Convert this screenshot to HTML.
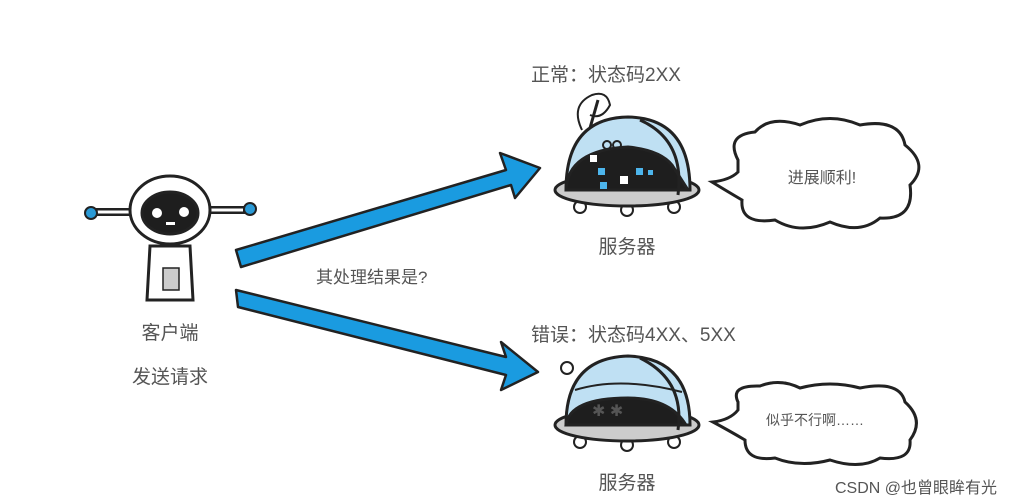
<!DOCTYPE html>
<html><head><meta charset="utf-8"><style>
html,body{margin:0;padding:0;background:#fff}
svg{display:block}
text{font-family:"Liberation Sans","Noto Sans CJK SC",sans-serif;fill:#555}
</style></head><body>
<svg width="1010" height="504" viewBox="0 0 1010 504" xmlns="http://www.w3.org/2000/svg">
<rect width="1010" height="504" fill="#fff"/>
<!-- client robot -->
<g stroke="#222" stroke-width="3">
<line x1="95" y1="212" x2="135" y2="212" stroke-width="8"/>
<line x1="205" y1="210" x2="245" y2="210" stroke-width="8"/>
<line x1="97" y1="212" x2="133" y2="212" stroke="#fff" stroke-width="3"/>
<line x1="207" y1="210" x2="243" y2="210" stroke="#fff" stroke-width="3"/>
<circle cx="91" cy="213" r="6" fill="#2a9ad6" stroke-width="2"/>
<circle cx="250" cy="209" r="6" fill="#2a9ad6" stroke-width="2"/>
<path d="M150 246 L190 246 L193 300 L147 300 Z" fill="#fff"/>
<rect x="163" y="268" width="16" height="22" fill="#ccc" stroke-width="1.5"/>
<ellipse cx="170" cy="210" rx="40" ry="34" fill="#fff"/>
<ellipse cx="170" cy="213" rx="28" ry="21" fill="#1e1e1e"/>
</g>
<circle cx="157" cy="213" r="5" fill="#fff"/><circle cx="184" cy="212" r="5" fill="#fff"/>
<rect x="166" y="222" width="9" height="3" fill="#fff"/>
<text x="170" y="339" font-size="19" text-anchor="middle">客户端</text>
<text x="170" y="383" font-size="19" text-anchor="middle">发送请求</text>
<!-- arrows -->
<g fill="#1a9be0" stroke="#222" stroke-width="2.5" stroke-linejoin="round">
<path d="M236 250 L506 170 L500 153 L540 168 L515 198 L511 185 L241 267 Z"/>
<path d="M236 290 L506 357 L501 342 L538 372 L501 390 L506 375 L238 307 Z"/>
</g>
<text x="316" y="283" font-size="17">其处理结果是?</text>
<!-- server 1 -->
<text x="531" y="81" font-size="19">正常：状态码2XX</text>
<g stroke="#222" stroke-width="3">
<path d="M582 130 q-12 -25 10 -35 q15 -5 18 10 q-8 15 -20 10" fill="none" stroke-width="2"/>
<line x1="588" y1="135" x2="598" y2="100" stroke-width="3"/>
<circle cx="580" cy="207" r="6" fill="#fff" stroke-width="2"/><circle cx="627" cy="210" r="6" fill="#fff" stroke-width="2"/><circle cx="674" cy="207" r="6" fill="#fff" stroke-width="2"/>
<ellipse cx="627" cy="190" rx="72" ry="16" fill="#ccc"/>
<path d="M566 190 Q566 118 628 117 Q690 118 690 190 Z" fill="#bfe0f3"/>
<path d="M566 190 Q568 150 628 147 Q660 150 672 165 L688 190 Z" fill="#1e1e1e"/>
<path d="M640 120 Q685 140 678 195" fill="none"/>
</g>
<rect x="590" y="155" width="7" height="7" fill="#fff"/><rect x="620" y="176" width="8" height="8" fill="#fff"/>
<rect x="598" y="168" width="7" height="7" fill="#4db5ec"/><rect x="636" y="168" width="7" height="7" fill="#4db5ec"/><rect x="600" y="182" width="7" height="7" fill="#4db5ec"/><rect x="648" y="170" width="5" height="5" fill="#4db5ec"/>
<ellipse cx="607" cy="145" rx="4" ry="4" fill="none" stroke="#222" stroke-width="2"/><ellipse cx="617" cy="145" rx="4" ry="4" fill="none" stroke="#222" stroke-width="2"/>
<text x="627" y="253" font-size="19" text-anchor="middle">服务器</text>
<path d="M738 160 Q725 135 755 132 Q770 115 800 125 Q830 112 860 125 Q900 118 905 145 Q930 165 910 185 Q915 220 880 218 Q860 235 830 222 Q800 235 775 220 Q740 225 742 200 Q725 190 712 182 Q730 180 738 172 Z" fill="#fff" stroke="#222" stroke-width="3"/>
<text x="822" y="183" font-size="16" text-anchor="middle" fill="#333">进展顺利!</text>
<!-- server 2 -->
<text x="531" y="341" font-size="19">错误：状态码4XX、5XX</text>
<g stroke="#222" stroke-width="3">
<circle cx="567" cy="368" r="6" fill="#fff" stroke-width="2"/>
<circle cx="580" cy="442" r="6" fill="#fff" stroke-width="2"/><circle cx="627" cy="445" r="6" fill="#fff" stroke-width="2"/><circle cx="674" cy="442" r="6" fill="#fff" stroke-width="2"/>
<ellipse cx="627" cy="425" rx="72" ry="16" fill="#ccc"/>
<path d="M566 425 Q566 358 628 356 Q690 358 690 425 Z" fill="#bfe0f3"/>
<path d="M566 425 Q570 398 628 398 Q670 398 686 425 Z" fill="#1e1e1e"/>
<path d="M640 358 Q685 380 678 430" fill="none"/>
<path d="M575 390 Q620 376 682 392" fill="none" stroke-width="2"/>
</g>
<text x="592" y="416" font-size="16" fill="#fff">✱ ✱</text>
<text x="627" y="489" font-size="19" text-anchor="middle">服务器</text>
<path d="M738 402 Q730 385 760 386 Q780 378 800 388 Q830 380 860 388 Q900 380 905 402 Q925 420 910 440 Q912 462 880 458 Q860 470 830 460 Q800 468 775 458 Q745 462 745 440 Q728 430 713 422 Q730 420 738 410 Z" fill="#fff" stroke="#222" stroke-width="3"/>
<text x="815" y="425" font-size="14" text-anchor="middle" fill="#333">似乎不行啊……</text>
<text x="997" y="493" font-size="16" text-anchor="end" fill="#777">CSDN @也曾眼眸有光</text>
</svg>
</body></html>
